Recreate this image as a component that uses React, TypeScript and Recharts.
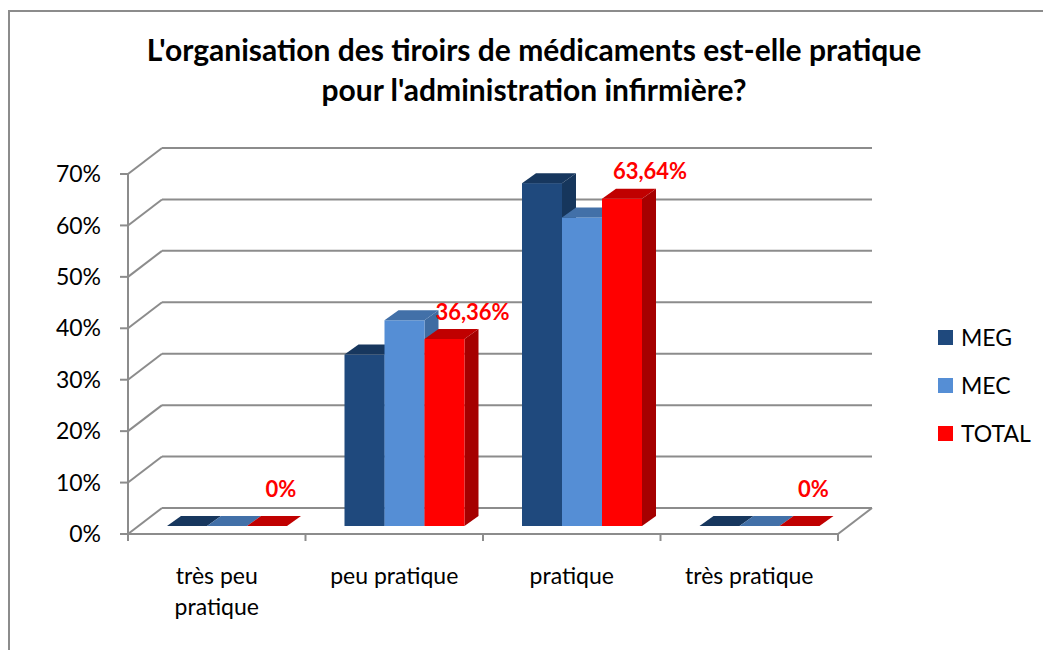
import React from 'react';
import { BarChart, Bar, XAxis, YAxis, CartesianGrid, Legend, LabelList } from 'recharts';

const categories = ['très peu pratique', 'peu pratique', 'pratique', 'très pratique'];
const seriesNames = ['MEG', 'MEC', 'TOTAL'];
const megValues = [0, 0.3333, 0.6667, 0];
const mecValues = [0, 0.4, 0.6, 0];
const totalValues = [0, 0.3636, 0.6364, 0];
const yTicks = [0, 0.1, 0.2, 0.3, 0.4, 0.5, 0.6, 0.7];
const titleLines = ["L'organisation des tiroirs de médicaments est-elle pratique", "pour l'administration infirmière?"];

const data = categories.map((c, i) => ({
  category: c,
  MEG: megValues[i],
  MEC: mecValues[i],
  TOTAL: totalValues[i],
}));

const FONT = 'Lato, "Open Sans", sans-serif';
const GRID = '#8c8c8c';
// depth of the floor (front -> back wall)
const WALL_DX = 34;
const WALL_DY = -26;
// offset of the bar plane from the front plane
const BAR_DX = 10;
const BAR_DY = -8;
// bar depth
const DEPTH_DX = 14;
const DEPTH_DY = -10;

let measureCtx: CanvasRenderingContext2D | null = null;
const measure = (s: string, font: string) => {
  if (!measureCtx && typeof document !== 'undefined') {
    measureCtx = document.createElement('canvas').getContext('2d');
  }
  if (!measureCtx) return s.length * 11;
  measureCtx.font = font;
  return measureCtx.measureText(s).width;
};
const wrapWords = (s: string, maxWidth: number, font: string) => {
  const words = s.split(' ');
  const lines: string[] = [];
  let cur = '';
  words.forEach((w) => {
    const cand = cur ? `${cur} ${w}` : w;
    if (cur && measure(cand, font) > maxWidth) {
      lines.push(cur);
      cur = w;
    } else {
      cur = cand;
    }
  });
  if (cur) lines.push(cur);
  return lines;
};

const make3D = (front: string, top: string, side: string) => (props: any) => {
  const { x, y, width, height } = props;
  const fx = x + BAR_DX;
  const fy = y + BAR_DY;
  const w = width;
  const h = Math.max(0, height);
  const topPts = `${fx},${fy} ${fx + DEPTH_DX},${fy + DEPTH_DY} ${fx + w + DEPTH_DX},${fy + DEPTH_DY} ${fx + w},${fy}`;
  const sidePts = `${fx + w},${fy} ${fx + w + DEPTH_DX},${fy + DEPTH_DY} ${fx + w + DEPTH_DX},${fy + h + DEPTH_DY} ${fx + w},${fy + h}`;
  return (
    <g>
      {h > 0 && <polygon points={sidePts} fill={side} />}
      {h > 0 && <rect x={fx} y={fy} width={w} height={h} fill={front} />}
      <polygon points={topPts} fill={top} />
    </g>
  );
};

const formatPct = (v: number) => {
  const p = v * 100;
  if (Math.abs(p - Math.round(p)) < 1e-9) return `${Math.round(p)}%`;
  return `${p.toFixed(2).replace('.', ',')}%`;
};

const TotalLabel = (props: any) => {
  const { x, y, width, value } = props;
  const v = Number(value);
  const cx = x + BAR_DX + width / 2 + (v > 0 ? 28 : 14);
  const cy = y + BAR_DY - (v > 0 ? 28 : 38);
  return (
    <text x={cx} y={cy} textAnchor="middle" dominantBaseline="central" fill="#ff0000"
      style={{ fontFamily: FONT, fontSize: 22, fontWeight: 700 }}>
      {formatPct(v)}
    </text>
  );
};

const gridLine = (props: any) => {
  const { x1, y1, x2, index } = props;
  return (
    <g key={`g-${index}`}>
      <line x1={x1} y1={y1} x2={x1 + WALL_DX} y2={y1 + WALL_DY} stroke={GRID} strokeWidth={2} />
      <line x1={x1 + WALL_DX} y1={y1 + WALL_DY} x2={x2 + WALL_DX} y2={y1 + WALL_DY} stroke={GRID} strokeWidth={2} />
    </g>
  );
};

const XTick = (props: any) => {
  const { x, y, payload, index, width, visibleTicksCount } = props;
  const band = width / visibleTicksCount;
  const left = x - band / 2;
  const right = x + band / 2;
  const last = index === visibleTicksCount - 1;
  const lines = wrapWords(String(payload.value), 160, `23px ${FONT}`);
  return (
    <g>
      <line x1={left} y1={y} x2={left} y2={y + 7} stroke={GRID} strokeWidth={2} />
      {last && <line x1={right} y1={y} x2={right} y2={y + 7} stroke={GRID} strokeWidth={2} />}
      {last && <line x1={right} y1={y} x2={right + WALL_DX} y2={y + WALL_DY} stroke={GRID} strokeWidth={2} />}
      <text x={x} y={y + 50} textAnchor="middle" fill="#000" style={{ fontFamily: FONT, fontSize: 23 }}>
        {lines.map((l, i) => (
          <tspan key={i} x={x} dy={i === 0 ? 0 : 31}>{l}</tspan>
        ))}
      </text>
    </g>
  );
};

const LegendContent = (props: any) => {
  const payload = [...(props.payload || [])].sort(
    (a: any, b: any) => seriesNames.indexOf(a.value) - seriesNames.indexOf(b.value));
  return (
    <div style={{ fontFamily: FONT, fontSize: 23, color: '#000' }}>
      {payload.map((p: any) => (
        <div key={p.value} style={{ display: 'flex', alignItems: 'center', height: 48 }}>
          <div style={{ width: 15, height: 15, background: p.color, marginRight: 8 }} />
          <span>{p.value}</span>
        </div>
      ))}
    </div>
  );
};

export default function App() {
  return (
    <div style={{ position: 'absolute', left: 0, top: 0, width: 1043, height: 650, overflow: 'hidden', background: '#fff' }}>
      <div style={{ position: 'absolute', left: 8, top: 10, width: 1100, height: 700, border: `2px solid ${GRID}`, boxSizing: 'border-box' }} />
      <div style={{ position: 'absolute', left: 0, top: 29, width: 1068, textAlign: 'center', fontFamily: FONT, fontWeight: 700, fontSize: 30, lineHeight: '40px', color: '#000' }}>
        {titleLines.map((l) => <div key={l}>{l}</div>)}
      </div>
      <div style={{ position: 'absolute', left: 0, top: 0 }}>
        <BarChart width={1043} height={650} data={data} margin={{ top: 174, right: 205, bottom: 56, left: 68 }}
          barSize={40} barGap={0}>
          <CartesianGrid vertical={false} horizontal={gridLine} />
          <XAxis dataKey="category" height={60} axisLine={{ stroke: GRID, strokeWidth: 2 }} tickLine={false}
            tickSize={0} tickMargin={0} tick={<XTick />} interval={0} />
          <YAxis width={60} domain={[0, 0.7]} ticks={yTicks} tickFormatter={formatPct}
            axisLine={{ stroke: GRID, strokeWidth: 2 }} tickLine={{ stroke: GRID, strokeWidth: 2 }}
            tickSize={8} tickMargin={19} tick={{ fill: '#000', fontSize: 23, fontFamily: FONT }} />
          <Legend layout="horizontal" align="center" verticalAlign="middle" content={<LegendContent />}
            wrapperStyle={{ left: 938, top: 313, width: 100 }} />
          <Bar dataKey="MEG" name="MEG" fill="#1f497d" isAnimationActive={false}
            shape={make3D('#1f497d', '#17375e', '#16365c')} />
          <Bar dataKey="MEC" name="MEC" fill="#558ed5" isAnimationActive={false}
            shape={make3D('#558ed5', '#4270a8', '#3f6ca2')} />
          <Bar dataKey="TOTAL" name="TOTAL" fill="#ff0000" isAnimationActive={false}
            shape={make3D('#ff0000', '#c00000', '#a50000')}>
            <LabelList dataKey="TOTAL" content={<TotalLabel />} />
          </Bar>
        </BarChart>
      </div>
    </div>
  );
}
